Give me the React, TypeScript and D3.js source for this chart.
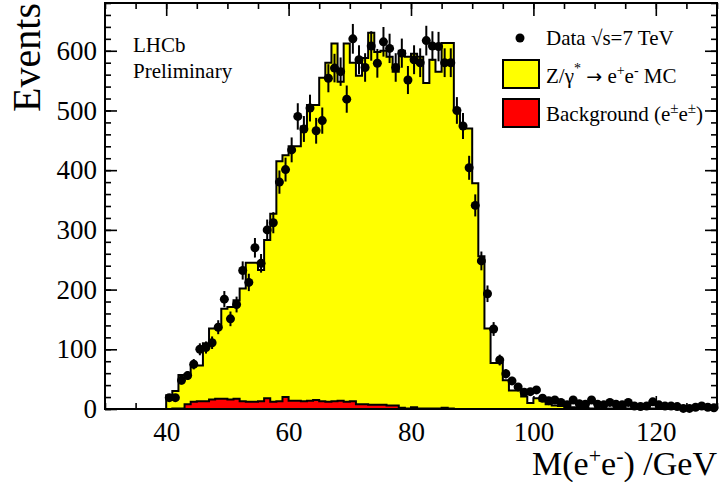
import React, { useRef, useEffect } from "react";
import * as d3 from "d3";

// bins of 1 GeV from 30 to 130
const binLow = d3.range(30, 130);

const mcCounts = [
  0, 0, 0, 0, 0, 0, 0, 0, 0, 0,
  23, 30, 57, 58, 73, 73, 110, 135, 135, 168,
  171, 182, 202, 245, 245, 233, 283, 327, 415, 425,
  440, 440, 473, 509, 509, 555, 580, 612, 548, 612,
  580, 558, 588, 630, 598, 600, 590, 565, 600, 590,
  595, 590, 546, 585, 565, 613, 613, 500, 474, 470,
  378, 256, 135, 77, 77, 48, 31, 31, 21, 10,
  18, 14, 8, 6, 5, 4, 3, 2, 2, 1,
  1, 1, 1, 1, 1, 1, 1, 1, 1, 1,
  1, 1, 1, 1, 0, 1, 1, 1, 0, 1,
];

const bkgCounts = [
  0, 0, 0, 0, 0, 0, 0, 0, 0, 0,
  0, 1, 1, 8, 12, 13, 13, 16, 17, 17,
  16, 17, 13, 12, 12, 13, 18, 12, 13, 20,
  14, 14, 13, 14, 15, 13, 12, 13, 14, 12,
  13, 8, 8, 7, 7, 7, 6, 6, 2, 1,
  3, 1, 1, 1, 1, 2, 1, 0, 0, 0,
  0, 0, 0, 0, 0, 0, 0, 0, 0, 0,
  0, 0, 0, 0, 0, 0, 0, 0, 0, 0,
  0, 0, 0, 0, 0, 0, 0, 0, 0, 0,
  0, 0, 0, 0, 0, 0, 0, 0, 0, 0,
];

const dataCounts = [
  0, 0, 0, 0, 0, 0, 0, 0, 0, 0,
  19, 19, 48, 56, 75, 100, 103, 111, 137, 184,
  151, 175, 232, 212, 270, 244, 300, 312, 380, 401,
  434, 490, 469, 504, 466, 483, 554, 571, 565, 519,
  620, 585, 572, 608, 579, 615, 604, 572, 596, 551,
  585, 580, 617, 608, 607, 580, 580, 500, 474, 404,
  341, 248, 193, 134, 82, 59, 47, 37, 28, 29,
  32, 18, 14, 15, 11, 7, 15, 9, 8, 15,
  8, 7, 11, 8, 7, 11, 5, 4, 5, 12,
  7, 5, 5, 4, 1, 1, 3, 5, 3, 2,
];

const xMajor = [40, 60, 80, 100, 120];
const yMajor = [0, 100, 200, 300, 400, 500, 600];

const W = 719;
const H = 482;
const font = "'Liberation Serif', 'Times New Roman', serif";

function ZeePlot() {
  const ref = useRef<SVGSVGElement>(null);

  useEffect(() => {
    const svg = d3.select(ref.current);
    svg.selectAll("*").remove();

    const left = 105, right = 717, top = 3, bottom = 409;
    const x = d3.scaleLinear().domain([30, 130]).range([left, right]);
    const y = d3.scaleLinear().domain([0, 680]).range([bottom, top]);

    // axes first (histograms are painted over them, like ROOT does)
    const xMinor = d3.range(30, 131, 5);
    const yMinor = d3.range(0, 681, 20);
    const styleAxis = (g: any) => {
      g.select(".domain").remove();
      g.selectAll("line").attr("stroke", "black").attr("stroke-width", 1.6);
      g.selectAll("text")
        .attr("font-family", font)
        .attr("font-size", 27)
        .attr("fill", "black");
    };

    svg
      .append("g")
      .attr("transform", `translate(0,${bottom})`)
      .call(d3.axisBottom(x).tickValues(xMinor).tickSize(-6).tickFormat(() => ""))
      .call(styleAxis);
    svg
      .append("g")
      .attr("transform", `translate(0,${bottom})`)
      .call(d3.axisBottom(x).tickValues(xMajor).tickSize(-13).tickPadding(13))
      .call(styleAxis);
    svg
      .append("g")
      .attr("transform", `translate(0,${top})`)
      .call(d3.axisTop(x).tickValues(xMinor).tickSize(-6).tickFormat(() => ""))
      .call(styleAxis);
    svg
      .append("g")
      .attr("transform", `translate(0,${top})`)
      .call(d3.axisTop(x).tickValues(xMajor).tickSize(-13).tickFormat(() => ""))
      .call(styleAxis);

    svg
      .append("g")
      .attr("transform", `translate(${left},0)`)
      .call(d3.axisLeft(y).tickValues(yMinor).tickSize(-6).tickFormat(() => ""))
      .call(styleAxis);
    svg
      .append("g")
      .attr("transform", `translate(${left},0)`)
      .call(d3.axisLeft(y).tickValues(yMajor).tickSize(-12).tickPadding(8))
      .call(styleAxis);
    svg
      .append("g")
      .attr("transform", `translate(${right},0)`)
      .call(d3.axisRight(y).tickValues(yMinor).tickSize(-6).tickFormat(() => ""))
      .call(styleAxis);
    svg
      .append("g")
      .attr("transform", `translate(${right},0)`)
      .call(d3.axisRight(y).tickValues(yMajor).tickSize(-12).tickFormat(() => ""))
      .call(styleAxis);

    // step points of a histogram
    const steps = (counts: number[]) => {
      const pts: [number, number][] = [];
      counts.forEach((c, i) => {
        pts.push([binLow[i], c]);
        pts.push([binLow[i] + 1, c]);
      });
      return pts;
    };

    const area = d3
      .area<[number, number]>()
      .x((d) => x(d[0]))
      .y0(y(0))
      .y1((d) => y(d[1]));
    const line = d3
      .line<[number, number]>()
      .x((d) => x(d[0]))
      .y((d) => y(d[1]));

    // MC signal
    const mc = steps(mcCounts);
    svg.append("path").attr("d", area(mc)).attr("fill", "#ffff00");
    svg
      .append("path")
      .attr("d", line(mc))
      .attr("fill", "none")
      .attr("stroke", "black")
      .attr("stroke-width", 2);

    // background
    const bk = steps(bkgCounts);
    svg.append("path").attr("d", area(bk)).attr("fill", "#ff0000");
    svg
      .append("path")
      .attr("d", line(bk))
      .attr("fill", "none")
      .attr("stroke", "black")
      .attr("stroke-width", 2);

    // data with sqrt(N) errors
    const pts = binLow
      .map((b, i) => ({ m: b + 0.5, n: dataCounts[i] }))
      .filter((d) => d.n > 0);
    svg
      .append("g")
      .selectAll("line")
      .data(pts)
      .enter()
      .append("line")
      .attr("x1", (d) => x(d.m))
      .attr("x2", (d) => x(d.m))
      .attr("y1", (d) => y(Math.max(0, d.n - Math.sqrt(d.n))))
      .attr("y2", (d) => y(d.n + Math.sqrt(d.n)))
      .attr("stroke", "black")
      .attr("stroke-width", 2);
    svg
      .append("g")
      .selectAll("circle")
      .data(pts)
      .enter()
      .append("circle")
      .attr("cx", (d) => x(d.m))
      .attr("cy", (d) => y(d.n))
      .attr("r", 4.5)
      .attr("fill", "black");

    // frame
    svg
      .append("rect")
      .attr("x", left)
      .attr("y", top)
      .attr("width", right - left)
      .attr("height", bottom - top)
      .attr("fill", "none")
      .attr("stroke", "black")
      .attr("stroke-width", 2);

    // titles
    svg
      .append("text")
      .attr("transform", `translate(40,${top}) rotate(-90)`)
      .attr("text-anchor", "end")
      .attr("font-family", font)
      .attr("font-size", 40)
      .text("Events");

    const xt = svg
      .append("text")
      .attr("x", right)
      .attr("y", 475)
      .attr("text-anchor", "end")
      .attr("font-family", font)
      .attr("font-size", 34);
    xt.append("tspan").text("M(e");
    xt.append("tspan").attr("dy", -12).attr("font-size", 22).text("+");
    xt.append("tspan").attr("dy", 12).text("e");
    xt.append("tspan").attr("dy", -12).attr("font-size", 22).text("-");
    xt.append("tspan").attr("dy", 12).text(") /GeV");

    // LHCb label
    svg
      .append("text")
      .attr("x", 133)
      .attr("y", 52)
      .attr("font-family", font)
      .attr("font-size", 21)
      .text("LHCb");
    svg
      .append("text")
      .attr("x", 133)
      .attr("y", 78)
      .attr("font-family", font)
      .attr("font-size", 21)
      .text("Preliminary");

    // legend
    const lg = svg.append("g").attr("font-family", font).attr("font-size", 21);
    lg.append("circle").attr("cx", 520).attr("cy", 38).attr("r", 4.5).attr("fill", "black");
    lg.append("text").attr("x", 546).attr("y", 45).text("Data \u221As=7 TeV");

    lg.append("rect")
      .attr("x", 503).attr("y", 60).attr("width", 36).attr("height", 28)
      .attr("fill", "#ffff00").attr("stroke", "black").attr("stroke-width", 2);
    const t2 = lg.append("text").attr("x", 546).attr("y", 83);
    t2.append("tspan").text("Z/\u03B3");
    t2.append("tspan").attr("dy", -10).attr("font-size", 14).text("*");
    t2.append("tspan").attr("dy", 10).text(" ");
    t2.append("tspan").attr("font-family", "'DejaVu Sans', sans-serif").attr("font-size", 19).text("\u2192");
    t2.append("tspan").text(" e");
    t2.append("tspan").attr("dy", -8).attr("font-size", 14).text("+");
    t2.append("tspan").attr("dy", 8).text("e");
    t2.append("tspan").attr("dy", -8).attr("font-size", 14).text("-");
    t2.append("tspan").attr("dy", 8).text(" MC");

    lg.append("rect")
      .attr("x", 503).attr("y", 99).attr("width", 36).attr("height", 28)
      .attr("fill", "#ff0000").attr("stroke", "black").attr("stroke-width", 2);
    const t3 = lg.append("text").attr("x", 546).attr("y", 121);
    t3.append("tspan").text("Background (e");
    t3.append("tspan").attr("dy", -8).attr("font-size", 15).text("\u00B1");
    t3.append("tspan").attr("dy", 8).text("e");
    t3.append("tspan").attr("dy", -8).attr("font-size", 15).text("\u00B1");
    t3.append("tspan").attr("dy", 8).text(")");
  }, []);

  return (
    <svg
      ref={ref}
      width={W}
      height={H}
      style={{ position: "absolute", left: 0, top: 0, background: "white" }}
    ></svg>
  );
}

export default function App() {
  return <ZeePlot />;
}
